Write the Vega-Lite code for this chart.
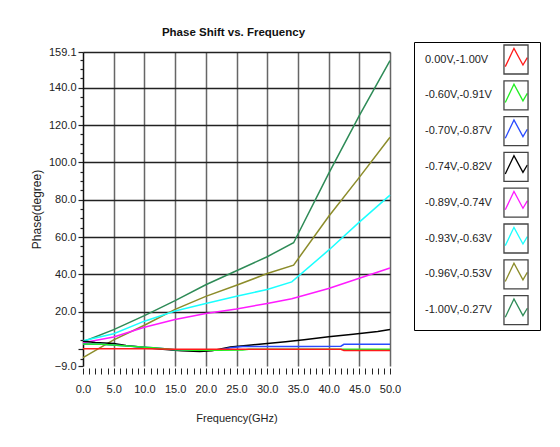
{
  "$schema": "https://vega.github.io/schema/vega-lite/v6.json",
  "autosize": {"type": "none"},
  "padding": {"left": 83, "top": 52, "right": 170, "bottom": 81},
  "width": 307,
  "height": 314,
  "background": "white",
  "title": {
    "text": "Phase Shift vs. Frequency",
    "font": "Liberation Sans",
    "fontSize": 11.5,
    "fontWeight": "bold",
    "color": "#111",
    "offset": 3,
    "dx": -3
  },
  "config": {
    "view": {"stroke": null},
    "axis": {
      "labelFont": "Liberation Sans",
      "titleFont": "Liberation Sans",
      "labelFontSize": 11,
      "titleFontSize": 11,
      "labelColor": "#222",
      "titleColor": "#222",
      "titleFontWeight": "normal",
      "tickColor": "#222",
      "domainColor": "#222",
      "labelOverlap": false,
      "labelFlush": false
    }
  },
  "data": {
    "values": [
      {"s": "-1.00V,-0.27V", "f": 0, "p": 4},
      {"s": "-1.00V,-0.27V", "f": 5, "p": 10.5},
      {"s": "-1.00V,-0.27V", "f": 10, "p": 18},
      {"s": "-1.00V,-0.27V", "f": 15, "p": 26},
      {"s": "-1.00V,-0.27V", "f": 20, "p": 34.5},
      {"s": "-1.00V,-0.27V", "f": 25, "p": 42},
      {"s": "-1.00V,-0.27V", "f": 30, "p": 49.5},
      {"s": "-1.00V,-0.27V", "f": 34.3, "p": 57},
      {"s": "-1.00V,-0.27V", "f": 40, "p": 94},
      {"s": "-1.00V,-0.27V", "f": 45, "p": 125},
      {"s": "-1.00V,-0.27V", "f": 50, "p": 154.5},

      {"s": "-0.96V,-0.53V", "f": 0, "p": -4.5},
      {"s": "-0.96V,-0.53V", "f": 5, "p": 5},
      {"s": "-0.96V,-0.53V", "f": 10, "p": 12.8},
      {"s": "-0.96V,-0.53V", "f": 15, "p": 21.3},
      {"s": "-0.96V,-0.53V", "f": 20, "p": 28.3},
      {"s": "-0.96V,-0.53V", "f": 25, "p": 34.2},
      {"s": "-0.96V,-0.53V", "f": 30, "p": 40.5},
      {"s": "-0.96V,-0.53V", "f": 34.3, "p": 45},
      {"s": "-0.96V,-0.53V", "f": 40, "p": 71},
      {"s": "-0.96V,-0.53V", "f": 45, "p": 92},
      {"s": "-0.96V,-0.53V", "f": 50, "p": 113.5},

      {"s": "-0.93V,-0.63V", "f": 0, "p": 4.5},
      {"s": "-0.93V,-0.63V", "f": 5, "p": 8.3},
      {"s": "-0.93V,-0.63V", "f": 10, "p": 15},
      {"s": "-0.93V,-0.63V", "f": 15, "p": 20.4},
      {"s": "-0.93V,-0.63V", "f": 20, "p": 24.5},
      {"s": "-0.93V,-0.63V", "f": 25, "p": 28.3},
      {"s": "-0.93V,-0.63V", "f": 30, "p": 32},
      {"s": "-0.93V,-0.63V", "f": 34, "p": 36},
      {"s": "-0.93V,-0.63V", "f": 40, "p": 53},
      {"s": "-0.93V,-0.63V", "f": 45, "p": 68},
      {"s": "-0.93V,-0.63V", "f": 50, "p": 82.5},

      {"s": "-0.89V,-0.74V", "f": 0, "p": 3.5},
      {"s": "-0.89V,-0.74V", "f": 5, "p": 6.5},
      {"s": "-0.89V,-0.74V", "f": 10, "p": 11.7},
      {"s": "-0.89V,-0.74V", "f": 15, "p": 15.9},
      {"s": "-0.89V,-0.74V", "f": 20, "p": 19.1},
      {"s": "-0.89V,-0.74V", "f": 25, "p": 21.5},
      {"s": "-0.89V,-0.74V", "f": 30, "p": 24.5},
      {"s": "-0.89V,-0.74V", "f": 34, "p": 27},
      {"s": "-0.89V,-0.74V", "f": 40, "p": 32.5},
      {"s": "-0.89V,-0.74V", "f": 45, "p": 38},
      {"s": "-0.89V,-0.74V", "f": 50, "p": 43.5},

      {"s": "-0.74V,-0.82V", "f": 0, "p": 4.3},
      {"s": "-0.74V,-0.82V", "f": 2, "p": 3.6},
      {"s": "-0.74V,-0.82V", "f": 5, "p": 3},
      {"s": "-0.74V,-0.82V", "f": 7, "p": 2},
      {"s": "-0.74V,-0.82V", "f": 10, "p": 0.9},
      {"s": "-0.74V,-0.82V", "f": 13, "p": 0},
      {"s": "-0.74V,-0.82V", "f": 16, "p": -0.8},
      {"s": "-0.74V,-0.82V", "f": 19, "p": -1.3},
      {"s": "-0.74V,-0.82V", "f": 21, "p": -0.8},
      {"s": "-0.74V,-0.82V", "f": 24, "p": 1.2},
      {"s": "-0.74V,-0.82V", "f": 27, "p": 2.1},
      {"s": "-0.74V,-0.82V", "f": 30, "p": 3},
      {"s": "-0.74V,-0.82V", "f": 33, "p": 4},
      {"s": "-0.74V,-0.82V", "f": 36, "p": 5},
      {"s": "-0.74V,-0.82V", "f": 40, "p": 6.6},
      {"s": "-0.74V,-0.82V", "f": 44, "p": 8},
      {"s": "-0.74V,-0.82V", "f": 48, "p": 9.5},
      {"s": "-0.74V,-0.82V", "f": 50, "p": 10.5},

      {"s": "-0.70V,-0.87V", "f": 0, "p": 2.8},
      {"s": "-0.70V,-0.87V", "f": 3, "p": 2.6},
      {"s": "-0.70V,-0.87V", "f": 6, "p": 2},
      {"s": "-0.70V,-0.87V", "f": 9, "p": 1.3},
      {"s": "-0.70V,-0.87V", "f": 12, "p": 0.7},
      {"s": "-0.70V,-0.87V", "f": 15, "p": -0.3},
      {"s": "-0.70V,-0.87V", "f": 18, "p": -0.6},
      {"s": "-0.70V,-0.87V", "f": 22, "p": -0.6},
      {"s": "-0.70V,-0.87V", "f": 24, "p": 0.8},
      {"s": "-0.70V,-0.87V", "f": 26, "p": 1.4},
      {"s": "-0.70V,-0.87V", "f": 35, "p": 1.5},
      {"s": "-0.70V,-0.87V", "f": 42, "p": 1.6},
      {"s": "-0.70V,-0.87V", "f": 42.5, "p": 2.6},
      {"s": "-0.70V,-0.87V", "f": 50, "p": 2.6},

      {"s": "-0.60V,-0.91V", "f": 0, "p": 2.8},
      {"s": "-0.60V,-0.91V", "f": 3, "p": 2.6},
      {"s": "-0.60V,-0.91V", "f": 6, "p": 2},
      {"s": "-0.60V,-0.91V", "f": 9, "p": 1.3},
      {"s": "-0.60V,-0.91V", "f": 12, "p": 0.7},
      {"s": "-0.60V,-0.91V", "f": 15, "p": -0.3},
      {"s": "-0.60V,-0.91V", "f": 18, "p": -0.6},
      {"s": "-0.60V,-0.91V", "f": 22, "p": -0.6},
      {"s": "-0.60V,-0.91V", "f": 26, "p": -0.5},
      {"s": "-0.60V,-0.91V", "f": 27, "p": 0},
      {"s": "-0.60V,-0.91V", "f": 50, "p": 0},

      {"s": "0.00V,-1.00V", "f": 0, "p": 0.3},
      {"s": "0.00V,-1.00V", "f": 10, "p": 0.3},
      {"s": "0.00V,-1.00V", "f": 15, "p": 0},
      {"s": "0.00V,-1.00V", "f": 42, "p": 0},
      {"s": "0.00V,-1.00V", "f": 42.5, "p": -0.7},
      {"s": "0.00V,-1.00V", "f": 50, "p": -0.7}
    ]
  },
  "mark": {"type": "line", "strokeWidth": 1.5},
  "encoding": {
    "x": {
      "field": "f",
      "type": "quantitative",
      "scale": {"domain": [0, 50], "nice": false, "zero": false},
      "axis": {
        "title": "Frequency(GHz)",
        "values": [0,1,2,3,4,5,6,7,8,9,10,11,12,13,14,15,16,17,18,19,20,21,22,23,24,25,26,27,28,29,30,31,32,33,34,35,36,37,38,39,40,41,42,43,44,45,46,47,48,49,50],
        "labelExpr": "datum.value % 5 == 0 ? format(datum.value, '.1f') : ''",
        "domain": false,
        "offset": 2,
        "tickSize": 6,
        "tickWidth": 1,
        "labelPadding": 9,
        "labelAngle": 0,
        "titlePadding": 18,
        "grid": true,
        "gridColor": "#666",
        "gridWidth": 1.5,
        "gridOpacity": {"condition": {"test": "datum.value % 5 == 0 && datum.value > 0", "value": 1}, "value": 0}
      }
    },
    "y": {
      "field": "p",
      "type": "quantitative",
      "scale": {"domain": [-9, 159.1], "nice": false, "zero": false},
      "axis": {
        "title": "Phase(degree)",
        "titleFontSize": 12,
        "values": [-9,-5,0,5,10,15,20,25,30,35,40,45,50,55,60,65,70,75,80,85,90,95,100,105,110,115,120,125,130,135,140,145,150,155,159.1],
        "labelExpr": "indexof([-9,20,40,60,80,100,120,140,159.1], datum.value) >= 0 ? format(datum.value, '.1f') : ''",
        "domain": true,
        "domainWidth": 1.5,
        "domainColor": "#111",
        "tickSize": {"condition": {"test": "datum.value % 20 == 0 || datum.value == -9 || datum.value == 159.1", "value": 5}, "value": 3},
        "tickWidth": 1.2,
        "labelPadding": 2,
        "titlePadding": 5,
        "grid": true,
        "gridColor": "#222",
        "gridWidth": 1.5,
        "gridOpacity": {"condition": {"test": "(datum.value % 20 == 0 && datum.value > 0) || datum.value == 159.1", "value": 1}, "value": 0}
      }
    },
    "stroke": {
      "field": "s",
      "type": "nominal",
      "scale": {
        "domain": ["0.00V,-1.00V", "-0.60V,-0.91V", "-0.70V,-0.87V", "-0.74V,-0.82V", "-0.89V,-0.74V", "-0.93V,-0.63V", "-0.96V,-0.53V", "-1.00V,-0.27V"],
        "range": ["#ff1a1a", "#22ee22", "#2a4bff", "#000000", "#ff1aff", "#1affff", "#8c8c2a", "#2e8b57"]
      },
      "legend": {
        "orient": "none",
        "legendX": 331,
        "legendY": -10,
        "title": null,
        "symbolType": "M-0.74,0.49L-0.14,-0.77L0.48,0.38L0.78,-0.13M0,-1M0,1M1.3,0",
        "symbolSize": 841,
        "symbolStrokeWidth": 1.3,
        "symbolFillColor": "transparent",
        "symbolOffset": 84.5,
        "labelOffset": -106.5,
        "rowPadding": 0.8,
        "padding": 2,
        "strokeColor": "#000",
        "labelFont": "Liberation Sans",
        "labelFontSize": 11,
        "labelColor": "#222",
        "labelLimit": 200
      }
    },
    "opacity": {
      "field": "s",
      "type": "nominal",
      "scale": {"range": [1, 1]},
      "legend": {
        "orient": "none",
        "legendX": 331,
        "legendY": -10,
        "title": null,
        "symbolType": "M-0.83,-1H0.83V1H-0.83Z",
        "symbolSize": 841,
        "symbolStrokeWidth": 1.3,
        "symbolStrokeColor": "#444",
        "symbolFillColor": "transparent",
        "symbolOffset": 84.5,
        "labelOffset": -106.5,
        "labelExpr": "''",
        "rowPadding": 0.8,
        "padding": 2
      }
    }
  }
}
